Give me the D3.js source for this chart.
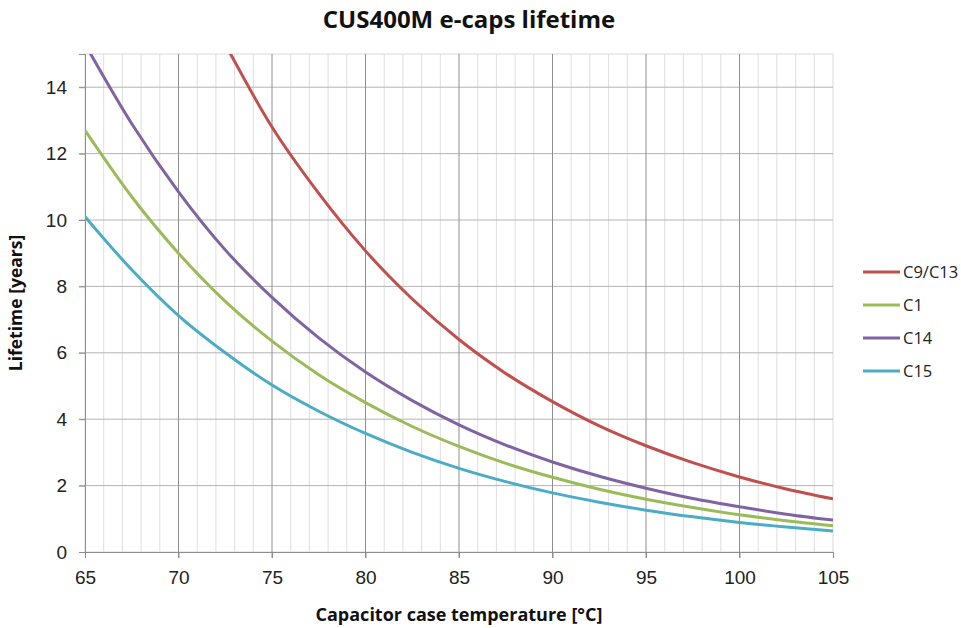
<!DOCTYPE html>
<html lang="en">
<head>
<meta charset="UTF-8">
<title>CUS400M e-caps lifetime</title>
<script src="https://d3js.org/d3.v7.min.js"></script>
<style>
    body { margin: 0; background: #fff; }
    svg { font-family: "Open Sans", sans-serif; }
    .minor { stroke: #dedede; stroke-width: 1px; }
    .major { stroke: #8e8e8e; stroke-width: 1px; }
    .hgrid { stroke: #b4b4b4; stroke-width: 1px; }
    .tick text { font-size: 19px; fill: #222; }
    .title { font-size: 24px; font-weight: bold; fill: #111; }
    .axtitle { font-size: 18px; font-weight: bold; fill: #111; }
    .legend text { font-size: 16.5px; fill: #222; }
</style>
</head>
<body>
<svg></svg>
<script>
const [width, height] = [961, 628]
const margin = {left: 85, right: 128, top: 54, bottom: 76}

// temperature samples [°C]
const temps = [65, 67.5, 70, 72.5, 75, 77.5, 80, 82.5, 85, 87.5, 90, 92.5, 95, 97.5, 100, 102.5, 105]
// lifetimes [years]
const c9c13 = [null, null, null, 15.3, 12.8, 10.8, 9.07, 7.62, 6.4, 5.38, 4.53, 3.8, 3.2, 2.69, 2.26, 1.9, 1.6]
const c1 = [12.7, 10.7, 9.0, 7.55, 6.35, 5.34, 4.5, 3.78, 3.18, 2.67, 2.25, 1.89, 1.59, 1.34, 1.12, 0.94, 0.79]
const c14 = [15.3, 12.9, 10.85, 9.1, 7.67, 6.45, 5.42, 4.56, 3.83, 3.22, 2.71, 2.28, 1.92, 1.61, 1.36, 1.14, 0.96]
const c15 = [10.1, 8.5, 7.12, 6.0, 5.03, 4.24, 3.57, 3.0, 2.52, 2.12, 1.78, 1.5, 1.26, 1.06, 0.89, 0.75, 0.63]

const series = [
    {name: 'C9/C13', values: c9c13, color: '#c0504d'},
    {name: 'C1', values: c1, color: '#9bbb59'},
    {name: 'C14', values: c14, color: '#8064a2'},
    {name: 'C15', values: c15, color: '#4bacc6'}
]
const xTicks = [65, 70, 75, 80, 85, 90, 95, 100, 105]
const yTicks = [0, 2, 4, 6, 8, 10, 12, 14]

const svg = d3.select('svg').attr('width', width).attr('height', height)

const x = d3.scaleLinear().domain([65, 105]).range([margin.left, width - margin.right])
const y = d3.scaleLinear().domain([0, 15]).range([height - margin.bottom, margin.top])

// plot border
svg.append('rect')
    .attr('x', x(65)).attr('y', y(15))
    .attr('width', x(105) - x(65)).attr('height', y(0) - y(15))
    .attr('fill', 'none').attr('stroke', '#d9d9d9')

// grid
svg.append('g').selectAll('line').data(d3.range(66, 105).filter(d => d % 5))
    .join('line').attr('class', 'minor')
    .attr('x1', d => x(d)).attr('x2', d => x(d))
    .attr('y1', y(0)).attr('y2', y(15))
svg.append('g').selectAll('line').data(yTicks.slice(1))
    .join('line').attr('class', 'hgrid')
    .attr('x1', x(65) - 6).attr('x2', x(105))
    .attr('y1', d => y(d)).attr('y2', d => y(d))
svg.append('g').selectAll('line').data(xTicks.slice(1, -1))
    .join('line').attr('class', 'major')
    .attr('x1', d => x(d)).attr('x2', d => x(d))
    .attr('y1', y(0) + 6).attr('y2', y(15))

// axes
const xAxis = svg.append('g').attr('transform', `translate(0,${y(0)})`)
    .call(d3.axisBottom(x).tickValues(xTicks).tickSize(6).tickPadding(9))
const yAxis = svg.append('g').attr('transform', `translate(${x(65)},0)`)
    .call(d3.axisLeft(y).tickValues(yTicks).tickSize(6).tickPadding(12))
for (const ax of [xAxis, yAxis]) {
    ax.select('.domain').attr('stroke', '#8e8e8e')
    ax.selectAll('.tick line').attr('stroke', '#8e8e8e')
}
xAxis.selectAll('.tick text').attr('dy', '0.9em')

// curves
svg.append('clipPath').attr('id', 'plot').append('rect')
    .attr('x', x(65)).attr('y', y(15))
    .attr('width', x(105) - x(65)).attr('height', y(0) - y(15))

const line = d3.line()
    .defined(d => d[1] != null)
    .x(d => x(d[0])).y(d => y(d[1]))
    .curve(d3.curveMonotoneX)

svg.append('g').attr('clip-path', 'url(#plot)')
    .selectAll('path').data(series).join('path')
    .attr('d', s => line(temps.map((t, i) => [t, s.values[i]])))
    .attr('fill', 'none').attr('stroke', s => s.color)
    .attr('stroke-width', 3)

// legend
const legend = svg.append('g').attr('class', 'legend')
    .selectAll('g').data(series).join('g')
    .attr('transform', (d, i) => `translate(863,${272 + i * 33})`)
legend.append('line').attr('x1', 0).attr('x2', 37)
    .attr('stroke', d => d.color).attr('stroke-width', 3)
legend.append('text').attr('x', 40).attr('dy', '0.35em').text(d => d.name)

// titles
svg.append('text').attr('class', 'title').attr('x', 469).attr('y', 28)
    .attr('text-anchor', 'middle').text('CUS400M e-caps lifetime')
svg.append('text').attr('class', 'axtitle').attr('x', 459).attr('y', 621)
    .attr('text-anchor', 'middle').text('Capacitor case temperature [°C]')
svg.append('text').attr('class', 'axtitle')
    .attr('transform', `translate(22,${(y(0) + y(15)) / 2})rotate(-90)`)
    .attr('text-anchor', 'middle').style('font-size', '17.5px').text('Lifetime [years]')
</script>
</body>
</html>
